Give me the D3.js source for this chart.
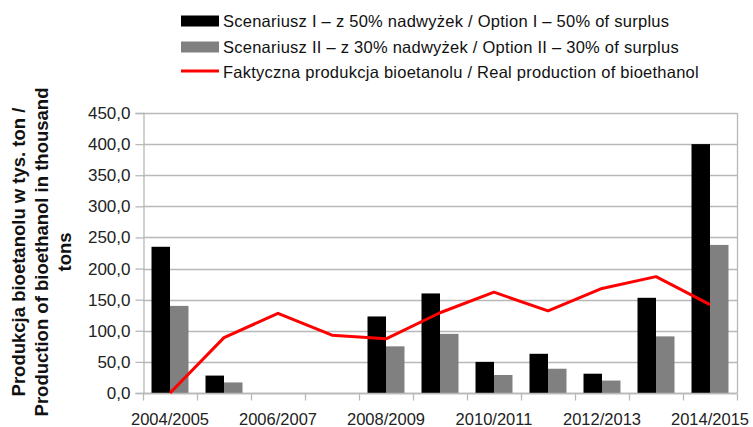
<!DOCTYPE html>
<html>
<head>
<meta charset="utf-8">
<script src="https://cdn.jsdelivr.net/npm/d3@7"></script>
<style>
  body { margin: 0; background: #fff; }
  svg { font-family: "Liberation Sans", Arial, sans-serif; }
</style>
</head>
<body>
<div id="chart"></div>
<script>
// data (thousand tons)
const seasons = ["2004/2005", "2005/2006", "2006/2007", "2007/2008", "2008/2009", "2009/2010",
                 "2010/2011", "2011/2012", "2012/2013", "2013/2014", "2014/2015"];
const option1 = [235, 28, null, null, 123, 160, 50, 63, 31, 153, 400];
const option2 = [140, 17, null, null, 75, 95, 29, 39, 20, 91, 238];
const realProd = [0, 89, 128, 93, 87, 129, 162, 132, 168, 187, 142];
const yTicks = [0, 50, 100, 150, 200, 250, 300, 350, 400, 450];
const xLabels = ["2004/2005", "2006/2007", "2008/2009", "2010/2011", "2012/2013", "2014/2015"];
const seriesNames = [
    "Scenariusz I \u2013 z 50% nadwy\u017Cek / Option I \u2013 50% of surplus",
    "Scenariusz II \u2013 z 30% nadwy\u017Cek / Option II \u2013 30% of surplus",
    "Faktyczna produkcja bioetanolu / Real production of bioethanol"
];

const w = 753, h = 427;
const margin = { top: 113, right: 16, bottom: 34, left: 143 };
const gridColor = "#b8b8b8";
const barColors = ["#000000", "#808080"];

const svg = d3.select("#chart").append("svg")
    .attr("width", w)
    .attr("height", h);

const x0 = d3.scaleBand()
    .domain(seasons)
    .range([margin.left, w - margin.right]);

const x1 = d3.scaleBand()
    .domain([0, 1])
    .range([0, x0.bandwidth()])
    .paddingInner(0)
    .paddingOuter(0.46);

const y = d3.scaleLinear()
    .domain([0, 450])
    .range([h - margin.bottom, margin.top]);

// gridlines
svg.append("g")
    .selectAll("line")
    .data(yTicks)
    .enter()
    .append("line")
    .attr("x1", margin.left)
    .attr("x2", w - margin.right)
    .attr("y1", d => Math.round(y(d)) + 0.5)
    .attr("y2", d => Math.round(y(d)) + 0.5)
    .attr("stroke", gridColor)
    .attr("stroke-width", 1.3);

// right border
svg.append("line")
    .attr("x1", w - margin.right + 0.5).attr("x2", w - margin.right + 0.5)
    .attr("y1", y(450)).attr("y2", y(0))
    .attr("stroke", gridColor).attr("stroke-width", 1.3);

// y axis
const yAxis = svg.append("g")
    .attr("transform", `translate(${margin.left + 0.5},0)`)
    .call(d3.axisLeft(y).tickValues(yTicks).tickSize(8).tickPadding(5)
        .tickFormat(d => d3.format(".1f")(d).replace(".", ",")));
yAxis.select(".domain").attr("stroke", gridColor).attr("stroke-width", 1.3);
yAxis.selectAll(".tick line").attr("stroke", gridColor).attr("stroke-width", 1.3);
yAxis.selectAll("text").style("font-size", "17px").attr("fill", "#222");

// bars
const datasets = [option1, option2];
datasets.forEach((vals, s) => {
    svg.append("g")
        .selectAll("rect")
        .data(seasons.map((d, i) => ({ season: d, v: vals[i] })).filter(d => d.v !== null))
        .enter()
        .append("rect")
        .attr("fill", barColors[s])
        .attr("x", d => x0(d.season) + x1(s))
        .attr("width", x1.bandwidth())
        .attr("y", d => y(d.v))
        .attr("height", d => y(0) - y(d.v));
});

// x axis: ticks at the band edges, labels every second season
const xBase = Math.round(y(0)) + 0.5;
const xAxis = svg.append("g");
xAxis.append("line")
    .attr("x1", margin.left).attr("x2", w - margin.right)
    .attr("y1", xBase).attr("y2", xBase)
    .attr("stroke", gridColor).attr("stroke-width", 1.3);
xAxis.selectAll("line.tick")
    .data(seasons.map(d => x0(d)).concat([x0.range()[1]]))
    .enter()
    .append("line")
    .attr("class", "tick")
    .attr("x1", d => Math.round(d) + 0.5).attr("x2", d => Math.round(d) + 0.5)
    .attr("y1", xBase).attr("y2", xBase + 7)
    .attr("stroke", gridColor).attr("stroke-width", 1.3);
xAxis.selectAll("text")
    .data(xLabels)
    .enter()
    .append("text")
    .attr("x", d => x0(d) + x0.bandwidth() / 2)
    .attr("y", 425)
    .attr("text-anchor", "middle")
    .style("font-size", "16.5px")
    .attr("fill", "#222")
    .text(d => d);

// real production line
const line = d3.line()
    .x((d, i) => x0(seasons[i]) + x0.bandwidth() / 2)
    .y(d => y(d));

svg.append("path")
    .datum(realProd)
    .attr("fill", "none")
    .attr("stroke", "#ff0000")
    .attr("stroke-width", 3)
    .attr("stroke-linejoin", "round")
    .attr("d", line);

// y axis title (three centred lines)
const titleLines = ["Produkcja bioetanolu w tys. ton /", "Production of bioethanol in thousand", "tons"];
svg.append("g")
    .selectAll("text")
    .data(titleLines)
    .enter()
    .append("text")
    .attr("transform", "rotate(-90)")
    .attr("x", -252)
    .attr("y", (d, i) => 25 + i * 23)
    .attr("text-anchor", "middle")
    .style("font-size", "18.5px")
    .style("font-weight", "bold")
    .attr("fill", "#111")
    .text(d => d);

// legend
const legend = svg.append("g").attr("transform", "translate(181,0)");
const rowY = [21, 47, 72];
seriesNames.forEach((name, i) => {
    if (i < 2) {
        legend.append("rect")
            .attr("x", 0).attr("y", rowY[i] - 5.5)
            .attr("width", 38).attr("height", 11)
            .attr("fill", barColors[i]);
    } else {
        legend.append("line")
            .attr("x1", 0).attr("x2", 38)
            .attr("y1", rowY[i] - 1).attr("y2", rowY[i] - 1)
            .attr("stroke", "#ff0000").attr("stroke-width", 3);
    }
    legend.append("text")
        .attr("x", 42)
        .attr("y", rowY[i])
        .attr("dy", "0.35em")
        .style("font-size", "16.5px")
        .style("letter-spacing", "0.25px")
        .attr("fill", "#111")
        .text(name);
});
</script>
</body>
</html>
